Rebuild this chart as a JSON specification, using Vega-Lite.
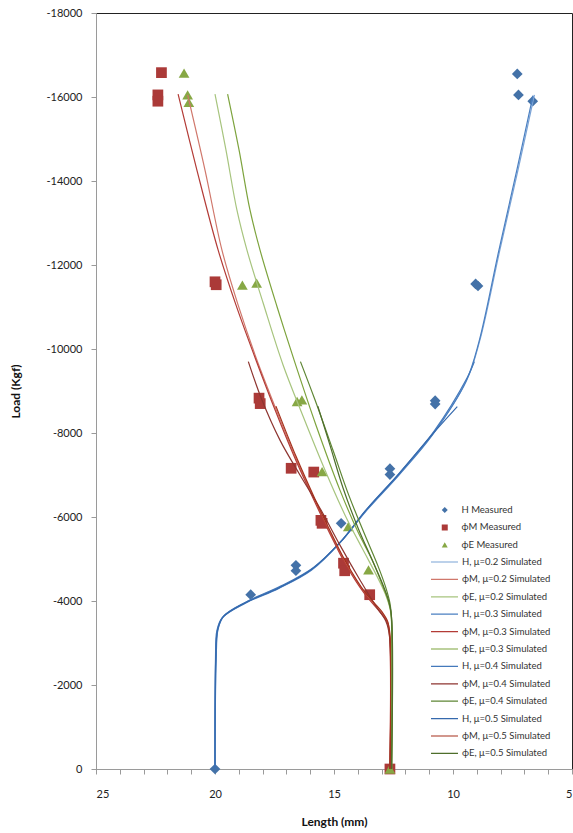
{
  "$schema": "https://vega.github.io/schema/vega-lite/v6.json",
  "width": 476,
  "height": 756,
  "autosize": "none",
  "padding": {"left": 96, "top": 13, "right": 1, "bottom": 64},
  "background": "white",
  "config": {
    "font": "Lato",
    "view": {"stroke": "#222", "strokeWidth": 1},
    "axis": {
      "grid": false,
      "domainColor": "#9a9a9a",
      "tickColor": "#9a9a9a",
      "labelColor": "#222",
      "titleColor": "#111",
      "labelFontSize": 11,
      "titleFontSize": 12,
      "titleFontWeight": "bold"
    },
    "legend": {
      "padding": 0,
      "labelFont": "Lato",
      "labelFontSize": 9.5,
      "labelColor": "#333"
    }
  },
  "data": {
    "values": [
      {"series": "H Measured", "length": 20.0, "load": 0},
      {"series": "H Measured", "length": 18.5, "load": -4150},
      {"series": "H Measured", "length": 16.6, "load": -4850},
      {"series": "H Measured", "length": 16.6, "load": -4720},
      {"series": "H Measured", "length": 14.7, "load": -5850},
      {"series": "H Measured", "length": 12.65, "load": -7150},
      {"series": "H Measured", "length": 12.65, "load": -7010},
      {"series": "H Measured", "length": 10.75, "load": -8770},
      {"series": "H Measured", "length": 10.75, "load": -8690},
      {"series": "H Measured", "length": 9.05, "load": -11550},
      {"series": "H Measured", "length": 8.95, "load": -11500},
      {"series": "H Measured", "length": 7.3, "load": -16550},
      {"series": "H Measured", "length": 7.25, "load": -16050},
      {"series": "H Measured", "length": 6.65, "load": -15900},

      {"series": "ϕM Measured", "length": 22.25, "load": -16580},
      {"series": "ϕM Measured", "length": 22.4, "load": -16050},
      {"series": "ϕM Measured", "length": 22.4, "load": -15900},
      {"series": "ϕM Measured", "length": 20.0, "load": -11600},
      {"series": "ϕM Measured", "length": 19.95, "load": -11530},
      {"series": "ϕM Measured", "length": 18.15, "load": -8830},
      {"series": "ϕM Measured", "length": 18.1, "load": -8700},
      {"series": "ϕM Measured", "length": 16.8, "load": -7160},
      {"series": "ϕM Measured", "length": 15.85, "load": -7070},
      {"series": "ϕM Measured", "length": 15.55, "load": -5920},
      {"series": "ϕM Measured", "length": 15.5, "load": -5850},
      {"series": "ϕM Measured", "length": 14.6, "load": -4900},
      {"series": "ϕM Measured", "length": 14.55, "load": -4720},
      {"series": "ϕM Measured", "length": 13.5, "load": -4150},
      {"series": "ϕM Measured", "length": 12.65, "load": 0},

      {"series": "ϕE Measured", "length": 21.3, "load": -16570},
      {"series": "ϕE Measured", "length": 21.15, "load": -16050},
      {"series": "ϕE Measured", "length": 21.1, "load": -15870},
      {"series": "ϕE Measured", "length": 18.85, "load": -11520},
      {"series": "ϕE Measured", "length": 18.25, "load": -11570},
      {"series": "ϕE Measured", "length": 16.55, "load": -8750},
      {"series": "ϕE Measured", "length": 16.35, "load": -8790},
      {"series": "ϕE Measured", "length": 15.5, "load": -7080},
      {"series": "ϕE Measured", "length": 14.4, "load": -5770},
      {"series": "ϕE Measured", "length": 13.55, "load": -4740},
      {"series": "ϕE Measured", "length": 12.65, "load": 0},

      {"series": "H, μ=0.2 Simulated", "length": 20.0, "load": 0},
      {"series": "H, μ=0.2 Simulated", "length": 19.96, "load": -2600},
      {"series": "H, μ=0.2 Simulated", "length": 19.89, "load": -3310},
      {"series": "H, μ=0.2 Simulated", "length": 19.65, "load": -3630},
      {"series": "H, μ=0.2 Simulated", "length": 18.67, "load": -3980},
      {"series": "H, μ=0.2 Simulated", "length": 17.27, "load": -4330},
      {"series": "H, μ=0.2 Simulated", "length": 15.9, "load": -4770},
      {"series": "H, μ=0.2 Simulated", "length": 14.7, "load": -5420},
      {"series": "H, μ=0.2 Simulated", "length": 13.63, "load": -6170},
      {"series": "H, μ=0.2 Simulated", "length": 12.23, "load": -7040},
      {"series": "H, μ=0.2 Simulated", "length": 10.83, "load": -7990},
      {"series": "H, μ=0.2 Simulated", "length": 9.42, "load": -9260},
      {"series": "H, μ=0.2 Simulated", "length": 8.87, "load": -10210},
      {"series": "H, μ=0.2 Simulated", "length": 8.03, "load": -12360},
      {"series": "H, μ=0.2 Simulated", "length": 7.27, "load": -14260},
      {"series": "H, μ=0.2 Simulated", "length": 6.58, "load": -16050},

      {"series": "H, μ=0.3 Simulated", "length": 20.0, "load": 0},
      {"series": "H, μ=0.3 Simulated", "length": 19.98, "load": -2600},
      {"series": "H, μ=0.3 Simulated", "length": 19.92, "load": -3300},
      {"series": "H, μ=0.3 Simulated", "length": 19.7, "load": -3600},
      {"series": "H, μ=0.3 Simulated", "length": 18.72, "load": -3950},
      {"series": "H, μ=0.3 Simulated", "length": 17.32, "load": -4300},
      {"series": "H, μ=0.3 Simulated", "length": 15.95, "load": -4730},
      {"series": "H, μ=0.3 Simulated", "length": 14.74, "load": -5390},
      {"series": "H, μ=0.3 Simulated", "length": 13.67, "load": -6130},
      {"series": "H, μ=0.3 Simulated", "length": 12.27, "load": -7000},
      {"series": "H, μ=0.3 Simulated", "length": 10.87, "load": -7950},
      {"series": "H, μ=0.3 Simulated", "length": 9.46, "load": -9220},
      {"series": "H, μ=0.3 Simulated", "length": 8.91, "load": -10170},
      {"series": "H, μ=0.3 Simulated", "length": 8.08, "load": -12330},
      {"series": "H, μ=0.3 Simulated", "length": 7.33, "load": -14230},
      {"series": "H, μ=0.3 Simulated", "length": 6.64, "load": -16030},

      {"series": "H, μ=0.4 Simulated", "length": 20.0, "load": 0},
      {"series": "H, μ=0.4 Simulated", "length": 19.95, "load": -2600},
      {"series": "H, μ=0.4 Simulated", "length": 19.87, "load": -3330},
      {"series": "H, μ=0.4 Simulated", "length": 19.62, "load": -3650},
      {"series": "H, μ=0.4 Simulated", "length": 18.62, "load": -4000},
      {"series": "H, μ=0.4 Simulated", "length": 17.22, "load": -4360},
      {"series": "H, μ=0.4 Simulated", "length": 15.86, "load": -4800},
      {"series": "H, μ=0.4 Simulated", "length": 14.66, "load": -5450},
      {"series": "H, μ=0.4 Simulated", "length": 13.6, "load": -6200},
      {"series": "H, μ=0.4 Simulated", "length": 12.2, "load": -7080},
      {"series": "H, μ=0.4 Simulated", "length": 10.8, "load": -8040},
      {"series": "H, μ=0.4 Simulated", "length": 9.4, "load": -9320},
      {"series": "H, μ=0.4 Simulated", "length": 9.1, "load": -9700},

      {"series": "H, μ=0.5 Simulated", "length": 20.0, "load": 0},
      {"series": "H, μ=0.5 Simulated", "length": 19.97, "load": -2600},
      {"series": "H, μ=0.5 Simulated", "length": 19.9, "load": -3290},
      {"series": "H, μ=0.5 Simulated", "length": 19.68, "load": -3610},
      {"series": "H, μ=0.5 Simulated", "length": 18.72, "load": -3960},
      {"series": "H, μ=0.5 Simulated", "length": 17.32, "load": -4310},
      {"series": "H, μ=0.5 Simulated", "length": 15.95, "load": -4750},
      {"series": "H, μ=0.5 Simulated", "length": 14.74, "load": -5400},
      {"series": "H, μ=0.5 Simulated", "length": 13.68, "load": -6150},
      {"series": "H, μ=0.5 Simulated", "length": 12.3, "load": -7010},
      {"series": "H, μ=0.5 Simulated", "length": 10.9, "load": -7950},
      {"series": "H, μ=0.5 Simulated", "length": 9.82, "load": -8630},

      {"series": "ϕM, μ=0.2 Simulated", "length": 12.65, "load": 0},
      {"series": "ϕM, μ=0.2 Simulated", "length": 12.66, "load": -3190},
      {"series": "ϕM, μ=0.2 Simulated", "length": 12.75, "load": -3500},
      {"series": "ϕM, μ=0.2 Simulated", "length": 12.99, "load": -3710},
      {"series": "ϕM, μ=0.2 Simulated", "length": 13.7, "load": -4190},
      {"series": "ϕM, μ=0.2 Simulated", "length": 14.5, "load": -4900},
      {"series": "ϕM, μ=0.2 Simulated", "length": 15.0, "load": -5450},
      {"series": "ϕM, μ=0.2 Simulated", "length": 15.8, "load": -6400},
      {"series": "ϕM, μ=0.2 Simulated", "length": 16.6, "load": -7400},
      {"series": "ϕM, μ=0.2 Simulated", "length": 17.39, "load": -8500},
      {"series": "ϕM, μ=0.2 Simulated", "length": 18.24, "load": -9740},
      {"series": "ϕM, μ=0.2 Simulated", "length": 19.03, "load": -11050},
      {"series": "ϕM, μ=0.2 Simulated", "length": 19.71, "load": -12360},
      {"series": "ϕM, μ=0.2 Simulated", "length": 20.42, "load": -14260},
      {"series": "ϕM, μ=0.2 Simulated", "length": 21.15, "load": -16050},

      {"series": "ϕM, μ=0.3 Simulated", "length": 12.65, "load": 0},
      {"series": "ϕM, μ=0.3 Simulated", "length": 12.67, "load": -3190},
      {"series": "ϕM, μ=0.3 Simulated", "length": 12.77, "load": -3500},
      {"series": "ϕM, μ=0.3 Simulated", "length": 13.03, "load": -3710},
      {"series": "ϕM, μ=0.3 Simulated", "length": 13.74, "load": -4190},
      {"series": "ϕM, μ=0.3 Simulated", "length": 14.54, "load": -4900},
      {"series": "ϕM, μ=0.3 Simulated", "length": 15.04, "load": -5450},
      {"series": "ϕM, μ=0.3 Simulated", "length": 15.84, "load": -6400},
      {"series": "ϕM, μ=0.3 Simulated", "length": 16.64, "load": -7400},
      {"series": "ϕM, μ=0.3 Simulated", "length": 17.44, "load": -8500},
      {"series": "ϕM, μ=0.3 Simulated", "length": 18.28, "load": -9740},
      {"series": "ϕM, μ=0.3 Simulated", "length": 19.12, "load": -11050},
      {"series": "ϕM, μ=0.3 Simulated", "length": 19.87, "load": -12360},
      {"series": "ϕM, μ=0.3 Simulated", "length": 20.76, "load": -14260},
      {"series": "ϕM, μ=0.3 Simulated", "length": 21.55, "load": -16070},

      {"series": "ϕM, μ=0.4 Simulated", "length": 12.65, "load": 0},
      {"series": "ϕM, μ=0.4 Simulated", "length": 12.67, "load": -3170},
      {"series": "ϕM, μ=0.4 Simulated", "length": 12.82, "load": -3520},
      {"series": "ϕM, μ=0.4 Simulated", "length": 13.24, "load": -3880},
      {"series": "ϕM, μ=0.4 Simulated", "length": 13.91, "load": -4500},
      {"series": "ϕM, μ=0.4 Simulated", "length": 14.75, "load": -5330},
      {"series": "ϕM, μ=0.4 Simulated", "length": 15.59, "load": -6210},
      {"series": "ϕM, μ=0.4 Simulated", "length": 16.43, "load": -7000},
      {"series": "ϕM, μ=0.4 Simulated", "length": 17.27, "load": -7830},
      {"series": "ϕM, μ=0.4 Simulated", "length": 18.03, "load": -8790},
      {"series": "ϕM, μ=0.4 Simulated", "length": 18.6, "load": -9700},

      {"series": "ϕM, μ=0.5 Simulated", "length": 12.65, "load": 0},
      {"series": "ϕM, μ=0.5 Simulated", "length": 12.65, "load": -3210},
      {"series": "ϕM, μ=0.5 Simulated", "length": 12.75, "load": -3520},
      {"series": "ϕM, μ=0.5 Simulated", "length": 12.98, "load": -3740},
      {"series": "ϕM, μ=0.5 Simulated", "length": 13.7, "load": -4210},
      {"series": "ϕM, μ=0.5 Simulated", "length": 14.5, "load": -4930},
      {"series": "ϕM, μ=0.5 Simulated", "length": 15.0, "load": -5480},
      {"series": "ϕM, μ=0.5 Simulated", "length": 15.8, "load": -6430},
      {"series": "ϕM, μ=0.5 Simulated", "length": 16.6, "load": -7450},
      {"series": "ϕM, μ=0.5 Simulated", "length": 17.44, "load": -8640},

      {"series": "ϕE, μ=0.2 Simulated", "length": 12.58, "load": 0},
      {"series": "ϕE, μ=0.2 Simulated", "length": 12.58, "load": -3500},
      {"series": "ϕE, μ=0.2 Simulated", "length": 12.65, "load": -3830},
      {"series": "ϕE, μ=0.2 Simulated", "length": 12.86, "load": -4190},
      {"series": "ϕE, μ=0.2 Simulated", "length": 13.24, "load": -4640},
      {"series": "ϕE, μ=0.2 Simulated", "length": 13.82, "load": -5260},
      {"series": "ϕE, μ=0.2 Simulated", "length": 14.54, "load": -6050},
      {"series": "ϕE, μ=0.2 Simulated", "length": 15.38, "load": -7120},
      {"series": "ϕE, μ=0.2 Simulated", "length": 16.3, "load": -8400},
      {"series": "ϕE, μ=0.2 Simulated", "length": 17.14, "load": -9620},
      {"series": "ϕE, μ=0.2 Simulated", "length": 17.98, "load": -11100},
      {"series": "ϕE, μ=0.2 Simulated", "length": 18.66, "load": -12360},
      {"series": "ϕE, μ=0.2 Simulated", "length": 19.08, "load": -13310},
      {"series": "ϕE, μ=0.2 Simulated", "length": 19.54, "load": -14740},
      {"series": "ϕE, μ=0.2 Simulated", "length": 20.0, "load": -16070},

      {"series": "ϕE, μ=0.3 Simulated", "length": 12.58, "load": 0},
      {"series": "ϕE, μ=0.3 Simulated", "length": 12.58, "load": -3430},
      {"series": "ϕE, μ=0.3 Simulated", "length": 12.61, "load": -3740},
      {"series": "ϕE, μ=0.3 Simulated", "length": 12.73, "load": -4020},
      {"series": "ϕE, μ=0.3 Simulated", "length": 12.98, "load": -4400},
      {"series": "ϕE, μ=0.3 Simulated", "length": 13.4, "load": -4980},
      {"series": "ϕE, μ=0.3 Simulated", "length": 13.99, "load": -5640},
      {"series": "ϕE, μ=0.3 Simulated", "length": 14.75, "load": -6640},
      {"series": "ϕE, μ=0.3 Simulated", "length": 15.76, "load": -8190},
      {"series": "ϕE, μ=0.3 Simulated", "length": 16.68, "load": -9740},
      {"series": "ϕE, μ=0.3 Simulated", "length": 17.39, "load": -11000},
      {"series": "ϕE, μ=0.3 Simulated", "length": 18.11, "load": -12360},
      {"series": "ϕE, μ=0.3 Simulated", "length": 18.53, "load": -13310},
      {"series": "ϕE, μ=0.3 Simulated", "length": 18.99, "load": -14740},
      {"series": "ϕE, μ=0.3 Simulated", "length": 19.47, "load": -16070},

      {"series": "ϕE, μ=0.4 Simulated", "length": 12.58, "load": 0},
      {"series": "ϕE, μ=0.4 Simulated", "length": 12.58, "load": -3550},
      {"series": "ϕE, μ=0.4 Simulated", "length": 12.65, "load": -3950},
      {"series": "ϕE, μ=0.4 Simulated", "length": 12.83, "load": -4330},
      {"series": "ϕE, μ=0.4 Simulated", "length": 13.17, "load": -4860},
      {"series": "ϕE, μ=0.4 Simulated", "length": 13.7, "load": -5570},
      {"series": "ϕE, μ=0.4 Simulated", "length": 14.38, "load": -6520},
      {"series": "ϕE, μ=0.4 Simulated", "length": 15.05, "load": -7600},
      {"series": "ϕE, μ=0.4 Simulated", "length": 15.8, "load": -8790},
      {"series": "ϕE, μ=0.4 Simulated", "length": 16.41, "load": -9700},

      {"series": "ϕE, μ=0.5 Simulated", "length": 12.58, "load": 0},
      {"series": "ϕE, μ=0.5 Simulated", "length": 12.58, "load": -3600},
      {"series": "ϕE, μ=0.5 Simulated", "length": 12.69, "load": -3980},
      {"series": "ϕE, μ=0.5 Simulated", "length": 12.94, "load": -4380},
      {"series": "ϕE, μ=0.5 Simulated", "length": 13.4, "load": -4980},
      {"series": "ϕE, μ=0.5 Simulated", "length": 13.99, "load": -5740},
      {"series": "ϕE, μ=0.5 Simulated", "length": 14.62, "load": -6690},
      {"series": "ϕE, μ=0.5 Simulated", "length": 15.17, "load": -7710},
      {"series": "ϕE, μ=0.5 Simulated", "length": 15.68, "load": -8640}
    ]
  },
  "encoding": {
    "x": {
      "field": "length",
      "type": "quantitative",
      "scale": {"domain": [5, 25], "reverse": true, "nice": false, "zero": false},
      "axis": {
        "title": "Length (mm)",
        "values": [5, 6, 7, 8, 9, 10, 11, 12, 13, 14, 15, 16, 17, 18, 19, 20, 21, 22, 23, 24, 25],
        "labelExpr": "datum.value % 5 == 0 ? '' + datum.value : ''",
        "tickSize": 5,
        "labelPadding": 14,
        "titlePadding": 17
      }
    },
    "y": {
      "field": "load",
      "type": "quantitative",
      "scale": {"domain": [-18000, 0], "reverse": true, "nice": false, "zero": false},
      "axis": {
        "title": "Load (Kgf)",
        "values": [-18000, -16000, -14000, -12000, -10000, -8000, -6000, -4000, -2000, 0],
        "labelExpr": "'' + datum.value",
        "tickSize": 5,
        "labelPadding": 9,
        "titlePadding": 24
      }
    }
  },
  "layer": [
    {
      "transform": [{"filter": "indexof(datum.series, 'Measured') >= 0"}],
      "mark": {"type": "point", "filled": true, "opacity": 1, "size": 115},
      "encoding": {
        "fill": {
          "field": "series",
          "type": "nominal",
          "scale": {"domain": ["H Measured", "ϕM Measured", "ϕE Measured"], "range": ["#4472a8", "#ab3a38", "#87a845"]},
          "legend": {"title": null, "orient": "none", "legendX": 344, "legendY": 491, "symbolSize": 36, "labelOffset": 12, "clipHeight": 12, "rowPadding": 5.4}
        },
        "shape": {
          "field": "series",
          "type": "nominal",
          "scale": {"domain": ["H Measured", "ϕM Measured", "ϕE Measured"], "range": ["diamond", "square", "triangle-up"]},
          "legend": {"title": null, "orient": "none", "legendX": 344, "legendY": 491, "symbolSize": 36, "labelOffset": 12, "clipHeight": 12, "rowPadding": 5.4}
        }
      }
    },
    {
      "transform": [{"filter": "indexof(datum.series, 'Simulated') >= 0"}],
      "mark": {"type": "line", "interpolate": "catmull-rom"},
      "encoding": {
        "order": {"field": "load", "sort": "descending"},
        "stroke": {
          "field": "series",
          "type": "nominal",
          "scale": {
            "domain": [
              "H, μ=0.2 Simulated", "ϕM, μ=0.2 Simulated", "ϕE, μ=0.2 Simulated",
              "H, μ=0.3 Simulated", "ϕM, μ=0.3 Simulated", "ϕE, μ=0.3 Simulated",
              "H, μ=0.4 Simulated", "ϕM, μ=0.4 Simulated", "ϕE, μ=0.4 Simulated",
              "H, μ=0.5 Simulated", "ϕM, μ=0.5 Simulated", "ϕE, μ=0.5 Simulated"
            ],
            "range": [
              "#7aa3d6", "#d0776b", "#a7c47e",
              "#4a7fc1", "#b33b36", "#7da33d",
              "#4479bb", "#8e3530", "#5e8634",
              "#3569ad", "#a5311c", "#4e6e2b"
            ]
          },
          "legend": {"title": null, "orient": "none", "legendX": 334, "legendY": 543, "symbolType": "stroke", "symbolSize": 729, "labelOffset": 3, "clipHeight": 12, "rowPadding": 5.4}
        },
        "strokeWidth": {
          "field": "series",
          "type": "ordinal",
          "scale": {
            "domain": [
              "H, μ=0.2 Simulated", "ϕM, μ=0.2 Simulated", "ϕE, μ=0.2 Simulated",
              "H, μ=0.3 Simulated", "ϕM, μ=0.3 Simulated", "ϕE, μ=0.3 Simulated",
              "H, μ=0.4 Simulated", "ϕM, μ=0.4 Simulated", "ϕE, μ=0.4 Simulated",
              "H, μ=0.5 Simulated", "ϕM, μ=0.5 Simulated", "ϕE, μ=0.5 Simulated"
            ],
            "range": [1.2, 1.2, 1.2, 1.8, 1.8, 1.8, 1.8, 1.8, 1.8, 2.6, 2.6, 2.6]
          },
          "legend": {"title": null, "orient": "none", "legendX": 334, "legendY": 543, "symbolType": "stroke", "symbolSize": 729, "labelOffset": 3, "clipHeight": 12, "rowPadding": 5.4}
        }
      }
    }
  ]
}
